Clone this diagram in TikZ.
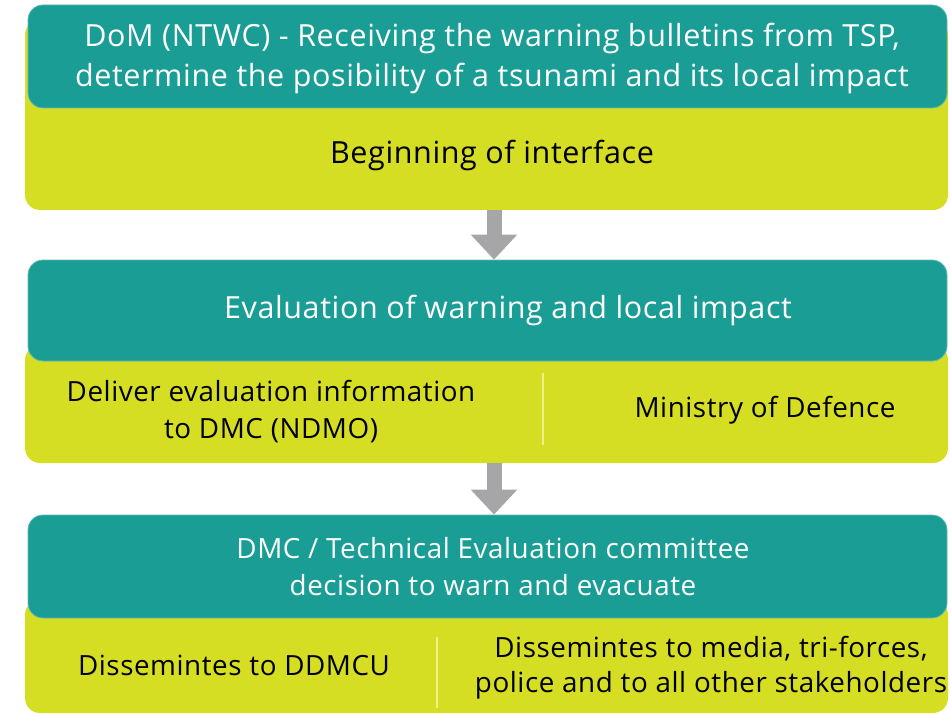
\documentclass[tikz,border=0pt]{standalone}
\usepackage{fontspec}
\setmainfont[LetterSpace=2]{Open Sans}
\usepackage{tikz}
\usetikzlibrary{arrows.meta}

\definecolor{headteal}{RGB}{26,157,149}
\definecolor{bodyyellow}{RGB}{214,222,36}
\definecolor{arrowgray}{RGB}{166,166,168}
\definecolor{seplight}{RGB}{240,240,140}

\newcommand{\largefont}{\fontsize{30.5}{40}\selectfont}
\newcommand{\smallerfont}{\fontsize{27.8}{37}\selectfont}

\begin{document}
\begin{tikzpicture}[x=1pt, y=-1pt,
		headbox/.style={fill=headteal, draw=headteal!70!white, line width=0.8pt, rounded corners=15pt, inner sep=0pt},
		bodybox/.style={fill=bodyyellow, rounded corners=15pt, inner sep=0pt},
		headtext/.style={text=white, font=\largefont, align=center, inner sep=0pt},
		bodytext/.style={text=black, font=\largefont, align=center, inner sep=0pt},
		flowarrow/.style={draw=arrowgray, line width=15pt, -{Triangle[width=45pt, length=25pt]}},
		sepline/.style={draw=seplight, line width=2.5pt}]
		\useasboundingbox (0,0) rectangle (950,714);

		% first block
		\node[bodybox, minimum width=923pt, minimum height=190pt] (body1) at (486.5,115) {};
		\node[headbox, minimum width=919pt, minimum height=103pt] (head1) at (487.5,56.5) {};
		\node[headtext] (dom) at (492,58) {DoM (NTWC) - Receiving the warning bulletins from TSP,\\determine the posibility of a tsunami and its local impact};
		\node[bodytext] (begin) at (492,155) {Beginning of interface};

		% second block
		\node[bodybox, minimum width=923pt, minimum height=118pt] (body2) at (486.5,404) {};
		\node[headbox, minimum width=919pt, minimum height=101pt] (head2) at (487.5,310.5) {};
		\node[headtext] (evaluation) at (508,310) {Evaluation of warning and local impact};
		\node[bodytext, font=\smallerfont] (deliver) at (271,412) {Deliver evaluation information\\to DMC (NDMO)};
		\node[bodytext, font=\smallerfont] (defence) at (765,410) {Ministry of Defence};
		\draw[sepline] (543,373) -- (543,445);

		% third block
		\node[bodybox, minimum width=923pt, minimum height=113pt] (body3) at (486.5,656.5) {};
		\node[headbox, minimum width=919pt, minimum height=103pt] (head3) at (487.5,566.5) {};
		\node[headtext, font=\smallerfont] (committee) at (493,567) {DMC / Technical Evaluation committee\\decision to warn and evacuate};
		\node[bodytext, font=\smallerfont] (ddmcu) at (234,665) {Dissemintes to DDMCU};
		\node[bodytext, font=\fontsize{27.8}{35}\selectfont] (media) at (711,667.5) {Dissemintes to media, tri-forces,\\police and to all other stakeholders};
		\draw[sepline] (437,637) -- (437,708);

		\draw[flowarrow] (body1.south -| 494,0) -- (head2.north -| 494,0);
		\draw[flowarrow] (body2.south -| 494,0) -- (head3.north -| 494,0);
\end{tikzpicture}
\end{document}
